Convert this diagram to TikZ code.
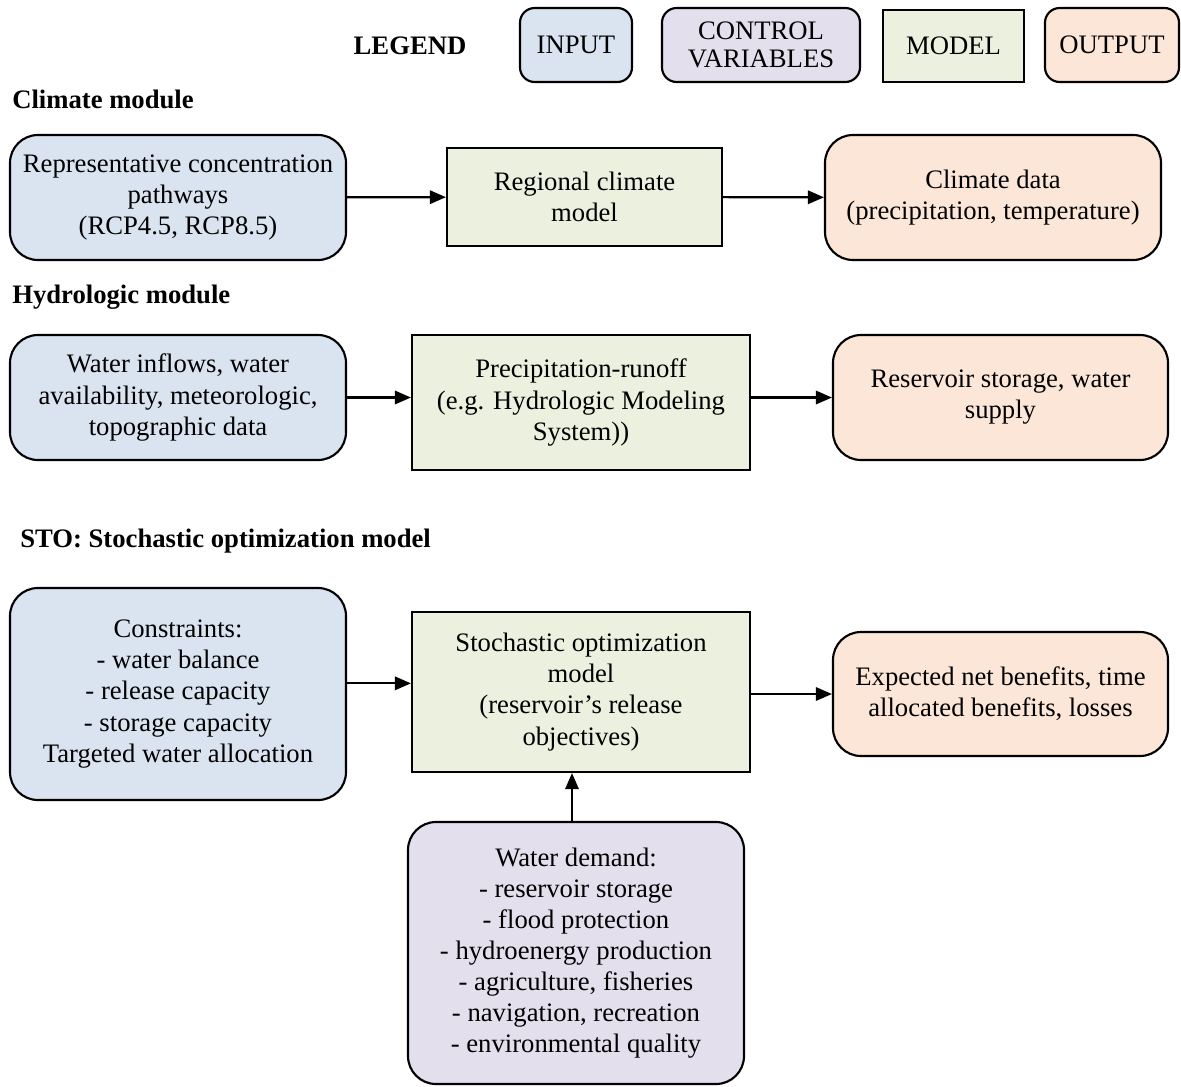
\documentclass[tikz,border=0pt]{standalone}
\usepackage{fontspec}
\setmainfont{Liberation Serif}
\usetikzlibrary{arrows.meta}
\definecolor{inpc}{HTML}{DAE3F0}
\definecolor{ctlc}{HTML}{E4DFEC}
\definecolor{modc}{HTML}{EBF0DF}
\definecolor{outc}{HTML}{FCE6D8}
\begin{document}
\begin{tikzpicture}[x=0.75pt,y=-0.75pt,
  box/.style={draw=black, line width=1.6pt, align=center, inner sep=0pt,
    font=\fontsize{20}{23.3}\selectfont},
  sz/.style 2 args={minimum width={#1*0.75pt}, minimum height={#2*0.75pt}},
  inbox/.style={box, fill=inpc, rounded corners=21pt},
  ctlbox/.style={box, fill=ctlc, rounded corners=21pt},
  modbox/.style={box, fill=modc},
  outbox/.style={box, fill=outc, rounded corners=21pt},
  lgd/.style={rounded corners=11pt},
  head/.style={anchor=west, font=\fontsize{20}{22}\selectfont\bfseries, inner sep=0pt},
  arr/.style={line width=1.6pt, -{Triangle[length=12pt,width=10pt]}}
]
\useasboundingbox (0,0) rectangle (1181,1086);

% legend
\node[head, anchor=center] (lg) at (410,46) {LEGEND};
\node[inbox, lgd, sz={112}{74}] (lin) at (576,45) {INPUT};
\node[ctlbox, lgd, sz={198}{74}, font=\fontsize{20}{21}\selectfont] (lctl) at (761,45) {CONTROL\\VARIABLES};
\node[modbox, sz={141}{72}] (lmod) at (953.5,46) {MODEL};
\node[outbox, lgd, sz={134}{74}] (lout) at (1112,45) {OUTPUT};

% climate module
\node[head] (h1) at (12,99) {Climate module};
\node[inbox, sz={336}{125}] (rcp) at (178,197.5) {Representative concentration\\pathways\\(RCP4.5, RCP8.5)};
\node[modbox, sz={275}{98}] (rcm) at (584.5,197) {Regional climate\\model};
\node[outbox, sz={336}{125}] (cd) at (993,197.5) {Climate data\\(precipitation, temperature)};
\draw[arr] (rcp) -- (rcm);
\draw[arr] (rcm) -- (cd);

% hydrologic module
\node[head] (h2) at (12,297) {Hydrologic module};
\node[inbox, sz={336}{125}] (wi) at (178,397.5) {Water inflows, water\\availability, meteorologic,\\topographic data};
\node[modbox, sz={338}{135}] (pr) at (581,402.5) {Precipitation-runoff\\(e.g. Hydrologic Modeling\\System))};
\node[outbox, sz={335}{125}] (rs) at (1000.5,397.5) {Reservoir storage, water\\supply};
\draw[arr] (wi.east) -- (wi.east -| pr.west);
\draw[arr] (pr.east |- rs.west) -- (rs.west);

% STO
\node[head] (h3) at (20,541) {STO: Stochastic optimization model};
\node[inbox, sz={336}{212}] (con) at (178,694) {Constraints:\\- water balance\\- release capacity\\- storage capacity\\Targeted water allocation};
\node[modbox, sz={338}{160}] (som) at (581,692) {Stochastic optimization\\model\\(reservoir’s release\\objectives)};
\node[outbox, sz={335}{124}] (ex) at (1000.5,694) {Expected net benefits, time\\allocated benefits, losses};
\node[ctlbox, sz={336}{262}] (wd) at (576,953) {Water demand:\\- reservoir storage\\- flood protection\\- hydroenergy production\\- agriculture, fisheries\\- navigation, recreation\\- environmental quality};
\draw[arr] ([yshift=8pt]con.east) -- ([yshift=8pt]con.east -| som.west);
\draw[arr] (som.east |- ex.west) -- (ex.west);
\draw[arr] ([xshift=-3pt]wd.north) -- ([xshift=-3pt]wd.north |- som.south);
\end{tikzpicture}
\end{document}
